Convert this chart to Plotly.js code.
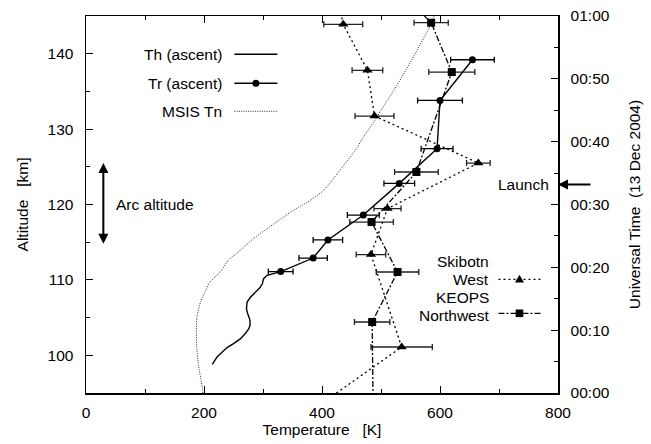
<!DOCTYPE html>
<html>
<head>
<meta charset="utf-8">
<script src="https://cdn.plot.ly/plotly-3.0.1.min.js"></script>
<style>html,body{margin:0;padding:0;background:#fff;}#chart{width:651px;height:444px;}</style>
</head>
<body>
<div id="chart"></div>
<script>
// ---- Data ----
// Tr (ascent): altitude [km], temperature [K], error [K]
const trAlt  = [139.2, 133.8, 127.4, 122.8, 118.6, 115.3, 112.9, 111.1];
const trTemp = [655, 600, 595, 531, 470, 410, 385, 330];
const trErr  = [37, 38, 27, 26, 27, 25, 24, 21];

// Th (ascent)
const thAlt  = [111.1, 110.84, 110.61, 110.17, 109.51, 108.98, 108.4, 107.73, 107.07, 106.19, 105.53, 104.64, 103.98, 103.54, 102.88, 102.21, 101.55, 101.02, 100.44, 99.77, 98.8];
const thTemp = [330, 316, 307, 301, 299, 295, 287, 279, 273, 272, 274, 278, 278, 276, 270, 262, 250, 239, 231, 222, 214];

// MSIS Tn
const msisAlt  = [95, 95.8, 98.5, 100.7, 102.9, 105.1, 107.3, 108.6, 109.5, 111.3, 112.6, 113.5, 115.5, 116.8, 119.0, 120.6, 121.9, 124.1, 127.6, 128.7, 131.2, 132.5, 135.8, 139.6, 143.8, 145];
const msisTemp = [198, 197, 191, 188, 187, 188, 195, 203, 208, 230, 241, 255, 284, 307, 347, 381, 403, 426, 460, 468, 490, 500, 527, 555, 584, 590];

// Skibotn West: UT minutes after 00:00, temperature, error
const skTime = [66, 58.68, 51.36, 44.08, 36.6, 29.35, 22.03, 7.32, -1.5];
const skTemp = [420, 436, 477, 489, 665, 511, 483, 535, 402];
const skErr  = [0, 33, 26, 33, 20, 23, 25, 52, 0];

// KEOPS Northwest
const kpTime = [66.8, 58.93, 51.08, 35.17, 27.21, 19.26, 11.3, -4.6];
const kpTemp = [501, 585, 620, 560, 484, 528, 485, 487];
const kpErr  = [0, 29, 39, 37, 37, 36, 30, 0];

// Right axis tick labels
const utTickVals = [0, 10, 20, 30, 40, 50, 60];
const utTickText = ['00:00', '00:10', '00:20', '00:30', '00:40', '00:50', '01:00'];

// Annotation values
const launchTime = 33.2;
const arcBottom = 114.6, arcTop = 125.5;

const FONT = 'Liberation Sans, Arial, Helvetica, sans-serif';
const FS = 15.5;

const traces = [
  {x: msisTemp, y: msisAlt, type: 'scatter', mode: 'lines', name: 'MSIS Tn',
   line: {color: '#333', width: 1, dash: '1px,1.3px', shape: 'spline', smoothing: 0.6}, hoverinfo: 'skip'},
  {x: thTemp, y: thAlt, type: 'scatter', mode: 'lines', name: 'Th (ascent)',
   line: {color: '#000', width: 1.4}},
  {x: trTemp, y: trAlt, type: 'scatter', mode: 'lines+markers', name: 'Tr (ascent)',
   line: {color: '#000', width: 1.4}, marker: {symbol: 'circle', size: 7, color: '#000'},
   error_x: {type: 'data', array: trErr, visible: true, color: '#000', thickness: 1.3, width: 3}},
  {x: skTemp, y: skTime, yaxis: 'y2', type: 'scatter', mode: 'lines+markers', name: 'Skibotn West',
   line: {color: '#000', width: 1.3, dash: '2px,3px'}, marker: {symbol: 'triangle-up', size: 9, color: '#000'},
   error_x: {type: 'data', array: skErr, visible: true, color: '#222', thickness: 1.3, width: 3}},
  {x: kpTemp, y: kpTime, yaxis: 'y2', type: 'scatter', mode: 'lines+markers', name: 'KEOPS Northwest',
   line: {color: '#000', width: 1.3, dash: '6px,2px,2px,2px'}, marker: {symbol: 'square', size: 8, color: '#000'},
   error_x: {type: 'data', array: kpErr, visible: true, color: '#222', thickness: 1.3, width: 3}}
];

const axisFont = {family: FONT, size: FS, color: '#000'};

// helper: pixel row in the plot area -> paper fraction (plot area spans 16..393 px)
const py = p => (392.7 - p) / 377;
const px = p => (p - 85.7) / 471.8;

const layout = {
  width: 651, height: 444,
  margin: {l: 86, r: 93, t: 16, b: 51, pad: 0},
  paper_bgcolor: '#fff', plot_bgcolor: '#fff',
  showlegend: false,
  font: axisFont,
  xaxis: {
    range: [0, 800], dtick: 200, tick0: 0,
    ticks: 'inside', ticklen: 7, tickwidth: 1, tickcolor: '#000',
    minor: {dtick: 100, ticks: 'inside', ticklen: 4, tickcolor: '#000', showgrid: false},
    showline: true, linecolor: '#000', linewidth: 1.5, mirror: 'ticks',
    showgrid: false, zeroline: false,
    tickfont: axisFont, ticklabelstandoff: 5,
    title: {text: 'Temperature\u00a0\u00a0\u00a0[K]', font: axisFont, standoff: 4}
  },
  yaxis: {
    range: [95, 145], dtick: 10, tick0: 100,
    ticks: 'inside', ticklen: 7, tickwidth: 1, tickcolor: '#000',
    minor: {dtick: 5, ticks: 'inside', ticklen: 4, tickcolor: '#000', showgrid: false},
    showline: true, linecolor: '#000', linewidth: 1.5, mirror: false,
    showgrid: false, zeroline: false,
    tickfont: axisFont, ticklabelstandoff: 8,
    title: {text: 'Altitude\u00a0\u00a0\u00a0[km]', font: axisFont, standoff: 15}
  },
  yaxis2: {
    overlaying: 'y', side: 'right',
    range: [0, 60], tickvals: utTickVals, ticktext: utTickText,
    ticks: 'inside', ticklen: 7, tickwidth: 1, tickcolor: '#000',
    minor: {dtick: 5, ticks: 'inside', ticklen: 4, tickcolor: '#000', showgrid: false},
    showline: true, linecolor: '#000', linewidth: 1.5,
    showgrid: false, zeroline: false,
    tickfont: axisFont, ticklabelstandoff: 8,
    title: {text: 'Universal Time\u00a0\u00a0(13 Dec 2004)', font: axisFont, standoff: 20}
  },
  annotations: [
    // legend texts
    {xref: 'paper', yref: 'paper', x: px(223), y: py(54), xanchor: 'right', yanchor: 'middle', text: 'Th (ascent)', showarrow: false, font: axisFont, borderpad: 0},
    {xref: 'paper', yref: 'paper', x: px(223), y: py(83), xanchor: 'right', yanchor: 'middle', text: 'Tr (ascent)', showarrow: false, font: axisFont, borderpad: 0},
    {xref: 'paper', yref: 'paper', x: px(223), y: py(111), xanchor: 'right', yanchor: 'middle', text: 'MSIS Tn', showarrow: false, font: axisFont, borderpad: 0},
    {xref: 'paper', yref: 'paper', x: px(490), y: py(261.3), xanchor: 'right', yanchor: 'middle', text: 'Skibotn', showarrow: false, font: axisFont, borderpad: 0},
    {xref: 'paper', yref: 'paper', x: px(490), y: py(279.2), xanchor: 'right', yanchor: 'middle', text: 'West', showarrow: false, font: axisFont, borderpad: 0},
    {xref: 'paper', yref: 'paper', x: px(490), y: py(297.1), xanchor: 'right', yanchor: 'middle', text: 'KEOPS', showarrow: false, font: axisFont, borderpad: 0},
    {xref: 'paper', yref: 'paper', x: px(490), y: py(315), xanchor: 'right', yanchor: 'middle', text: 'Northwest', showarrow: false, font: axisFont, borderpad: 0},
    // Launch
    {xref: 'paper', yref: 'y2', x: px(550), y: launchTime, xanchor: 'right', yanchor: 'middle', text: 'Launch', showarrow: false, font: axisFont, borderpad: 0},
    {xref: 'paper', yref: 'y2', x: 1.0, y: launchTime, ax: 34, ay: 0, axref: 'pixel', ayref: 'pixel', text: '', showarrow: true,
     arrowhead: 2, arrowsize: 1, arrowwidth: 2, arrowcolor: '#000', standoff: 0},
    // Arc altitude
    {xref: 'x', yref: 'y', x: 49.7, y: (arcBottom + arcTop) / 2, xanchor: 'left', yanchor: 'middle', text: 'Arc altitude', showarrow: false, font: axisFont, borderpad: 0},
    {xref: 'x', yref: 'y', x: 29.4, y: arcTop, axref: 'x', ayref: 'y', ax: 29.4, ay: arcBottom, text: '', showarrow: true,
     arrowhead: 2, startarrowhead: 2, arrowside: 'end+start', arrowsize: 1, startarrowsize: 1, arrowwidth: 2, arrowcolor: '#000', standoff: 0, startstandoff: 0}
  ],
  shapes: [
    // legend sample lines and symbols
    {type: 'line', xref: 'paper', yref: 'paper', x0: px(234), x1: px(277), y0: py(54), y1: py(54), line: {color: '#000', width: 1.4}},
    {type: 'line', xref: 'paper', yref: 'paper', x0: px(234), x1: px(277), y0: py(83), y1: py(83), line: {color: '#000', width: 1.4}},
    {type: 'circle', xref: 'paper', yref: 'paper', xsizemode: 'pixel', ysizemode: 'pixel', xanchor: px(255.5), yanchor: py(83),
     x0: -3.5, x1: 3.5, y0: -3.5, y1: 3.5, fillcolor: '#000', line: {width: 0}},
    {type: 'line', xref: 'paper', yref: 'paper', x0: px(234), x1: px(277), y0: py(111), y1: py(111), line: {color: '#333', width: 1, dash: '1px,1.3px'}},
    {type: 'line', xref: 'paper', yref: 'paper', x0: px(498), x1: px(540), y0: py(279), y1: py(279), line: {color: '#000', width: 1.3, dash: '2px,3px'}},
    {type: 'path', xref: 'paper', yref: 'paper', xsizemode: 'pixel', ysizemode: 'pixel', xanchor: px(519), yanchor: py(279),
     path: 'M -4.5 -3.2 L 4.5 -3.2 L 0 4.6 Z', fillcolor: '#000', line: {width: 0}},
    {type: 'line', xref: 'paper', yref: 'paper', x0: px(498), x1: px(540), y0: py(313), y1: py(313), line: {color: '#000', width: 1.3, dash: '6px,2px,2px,2px'}},
    {type: 'rect', xref: 'paper', yref: 'paper', xsizemode: 'pixel', ysizemode: 'pixel', xanchor: px(519), yanchor: py(313),
     x0: -3.8, x1: 3.8, y0: -3.8, y1: 3.8, fillcolor: '#000', line: {width: 0}}
  ]
};

Plotly.newPlot('chart', traces, layout, {staticPlot: true, displayModeBar: false});
</script>
</body>
</html>
